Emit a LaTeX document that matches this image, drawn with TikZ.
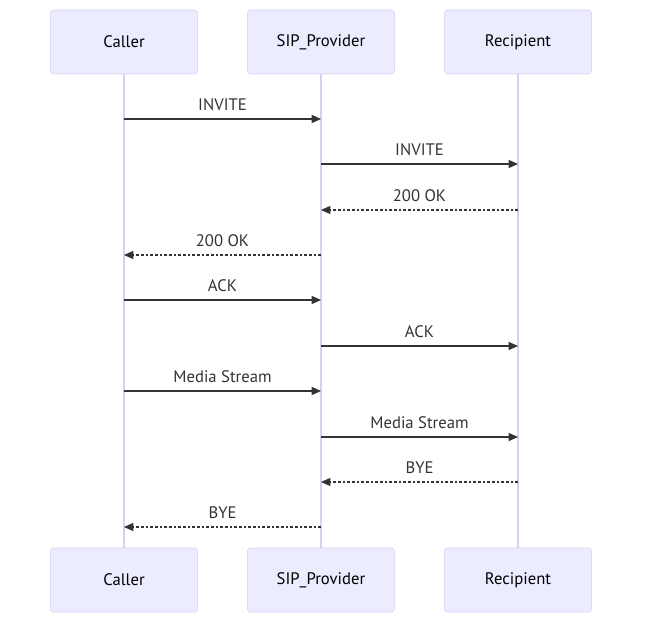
\documentclass[tikz,border=0pt]{standalone}
\usepackage{fontspec}
\setmainfont{PT Sans}
\usetikzlibrary{arrows.meta}
\definecolor{actorfill}{HTML}{ECECFF}
\definecolor{actorline}{HTML}{DACEF3}
\definecolor{msgline}{HTML}{333333}
\begin{document}
\begin{tikzpicture}[x=0.75pt,y=-0.75pt,
  actor/.style={draw=actorline,fill=actorfill,rounded corners=2.5pt,minimum width=110.5pt,minimum height=48pt,font=\fontsize{12.5}{14}\selectfont},
  lifeline/.style={draw=actorline,line width=1.5pt},
  msg/.style={draw=msgline,line width=1pt,-{Triangle[length=7pt,width=6pt]}},
  reply/.style={msg,dash pattern=on 2pt off 1.5pt},
  lbl/.style={midway,yshift=11pt,text=msgline,font=\fontsize{12.5}{14}\selectfont}]
\useasboundingbox (0,0) rectangle (650,631);
% actors, top and bottom
\node[actor] (callerT) at (124,42) {Caller};
\node[actor] (sipT) at (321,42) {SIP\_Provider};
\node[actor] (recT) at (518,42) {Recipient};
\node[actor] (callerB) at (124,580) {Caller};
\node[actor] (sipB) at (321,580) {SIP\_Provider};
\node[actor] (recB) at (518,580) {Recipient};
% lifelines
\draw[lifeline] (callerT) -- (callerB);
\draw[lifeline] (sipT) -- (sipB);
\draw[lifeline] (recT) -- (recB);
% message rows
\coordinate (m1) at (0,119);
\coordinate (m2) at (0,164);
\coordinate (m3) at (0,210);
\coordinate (m4) at (0,255);
\coordinate (m5) at (0,300);
\coordinate (m6) at (0,346);
\coordinate (m7) at (0,391);
\coordinate (m8) at (0,437);
\coordinate (m9) at (0,482);
\coordinate (m10) at (0,527);
% messages
\draw[msg] (callerT |- m1) -- node[lbl] {INVITE} (sipT |- m1);
\draw[msg] (sipT |- m2) -- node[lbl] {INVITE} (recT |- m2);
\draw[reply] (recT |- m3) -- node[lbl] {200 OK} (sipT |- m3);
\draw[reply] (sipT |- m4) -- node[lbl] {200 OK} (callerT |- m4);
\draw[msg] (callerT |- m5) -- node[lbl] {ACK} (sipT |- m5);
\draw[msg] (sipT |- m6) -- node[lbl] {ACK} (recT |- m6);
\draw[msg] (callerT |- m7) -- node[lbl] {Media Stream} (sipT |- m7);
\draw[msg] (sipT |- m8) -- node[lbl] {Media Stream} (recT |- m8);
\draw[reply] (recT |- m9) -- node[lbl] {BYE} (sipT |- m9);
\draw[reply] (sipT |- m10) -- node[lbl] {BYE} (callerT |- m10);
\end{tikzpicture}
\end{document}
